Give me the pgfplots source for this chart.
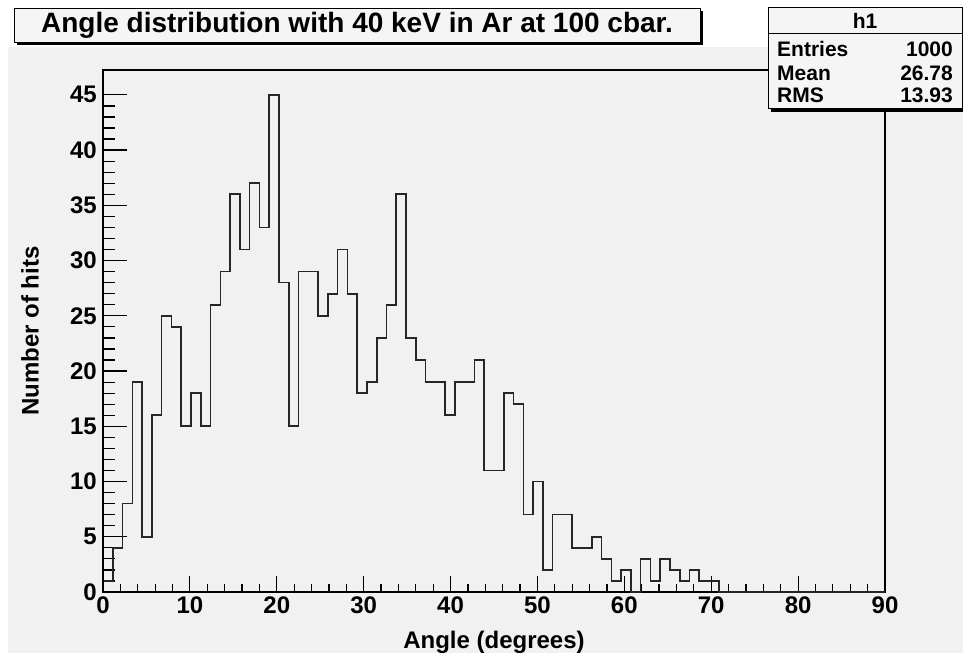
\documentclass[border=0pt]{standalone}
\usepackage{pgfplots}
\pgfplotsset{compat=1.18}
\usepackage{fontspec}
\setmainfont{Liberation Sans}
\definecolor{bggray}{RGB}{241,241,241}
\definecolor{boxfill}{RGB}{245,245,245}
\begin{document}
\begin{tikzpicture}
% canvas, 1pt = 1px of the reference, y downwards
\begin{scope}[x=1pt,y=-1pt]
  \useasboundingbox (0,0) rectangle (963,653);
  \fill[white] (0,0) rectangle (963,653);
  \fill[bggray] (8,47) rectangle (963,653);
\end{scope}

% x ticks
\begin{axis}[
    at={(103pt,-592pt)}, anchor=south west,
    scale only axis, width=782pt, height=522pt,
    xmin=0, xmax=90, ymin=0, ymax=47.25,
    xtick={0,10,...,90}, minor x tick num=4,
    ytick=\empty,
    tick align=inside, xtick pos=left,
    major tick length=15.7pt, minor tick length=7.8pt,
    every tick/.style={black, line width=1.2pt},
    axis line style={black, line width=1.2pt},
    /pgf/number format/assume math mode=true,
    xticklabel style={font=\fontsize{24}{24}\selectfont\bfseries, inner sep=0pt, yshift=-5pt},
]
\end{axis}

% y ticks and the histogram
\begin{axis}[
    at={(103pt,-592pt)}, anchor=south west,
    scale only axis, width=782pt, height=522pt,
    xmin=0, xmax=90, ymin=0, ymax=47.25,
    xtick=\empty,
    ytick={0,5,...,45}, minor y tick num=4,
    tick align=inside, ytick pos=left,
    major tick length=23.5pt, minor tick length=11.7pt,
    every tick/.style={black, line width=1.2pt},
    axis line style={black, line width=1.2pt},
    /pgf/number format/assume math mode=true,
    yticklabel style={font=\fontsize{24}{24}\selectfont\bfseries, inner sep=0pt, xshift=-6pt},
    xlabel={Angle (degrees)},
    ylabel={Number of hits},
    label style={font=\fontsize{24}{24}\selectfont\bfseries},
    xlabel style={at={(axis description cs:0.5,-0.1073)}, anchor=base},
    ylabel style={at={(axis description cs:-0.0934,0.5)}, anchor=center},
]
\addplot[const plot mark left, black!85, line width=1.6pt] coordinates {
(0,1) (1.125,4) (2.25,8) (3.375,19) (4.5,5) (5.625,16) (6.75,25) (7.875,24)
(9,15) (10.125,18) (11.25,15) (12.375,26) (13.5,29) (14.625,36) (15.75,31) (16.875,37)
(18,33) (19.125,45) (20.25,28) (21.375,15) (22.5,29) (23.625,29) (24.75,25) (25.875,27)
(27,31) (28.125,27) (29.25,18) (30.375,19) (31.5,23) (32.625,26) (33.75,36) (34.875,23)
(36,21) (37.125,19) (38.25,19) (39.375,16) (40.5,19) (41.625,19) (42.75,21) (43.875,11)
(45,11) (46.125,18) (47.25,17) (48.375,7) (49.5,10) (50.625,2) (51.75,7) (52.875,7)
(54,4) (55.125,4) (56.25,5) (57.375,3) (58.5,1) (59.625,2) (60.75,0) (61.875,3)
(63,1) (64.125,3) (65.25,2) (66.375,1) (67.5,2) (68.625,1) (69.75,1) (70.875,0)
(72,0) (73.125,0) (74.25,0) (75.375,0) (76.5,0) (77.625,0) (78.75,0) (79.875,0)
(81,0) (82.125,0) (83.25,0) (84.375,0) (85.5,0) (86.625,0) (87.75,0) (88.875,0)
(90,0)
};
\draw[black, line width=2pt] (rel axis cs:0,0) -- (rel axis cs:0,1);
\end{axis}

% title box and statistics box
\begin{scope}[x=1pt,y=-1pt]
  \fill[black] (17,11) rectangle (703,45);
  \filldraw[fill=boxfill, draw=black, line width=1pt] (14,8) rectangle (700,42);
  \node[font=\fontsize{28}{28}\selectfont\bfseries] at (357,25) {Angle distribution with 40 keV in Ar at 100 cbar.};

  \fill[black] (771,11) rectangle (963,112);
  \filldraw[fill=boxfill, draw=black, line width=1pt] (768,7) rectangle (962,108);
  \draw[black, line width=1pt] (768,33) -- (962,33);
  \begin{scope}[every node/.style={font=\fontsize{21}{21}\selectfont\bfseries, inner sep=0pt}]
    \node at (865,21) {h1};
    \node[anchor=west] at (777,49) {Entries};
    \node[anchor=east] at (953,49) {1000};
    \node[anchor=west] at (777,73) {Mean};
    \node[anchor=east] at (953,73) {26.78};
    \node[anchor=west] at (777,95) {RMS};
    \node[anchor=east] at (953,95) {13.93};
  \end{scope}
\end{scope}
\end{tikzpicture}
\end{document}
